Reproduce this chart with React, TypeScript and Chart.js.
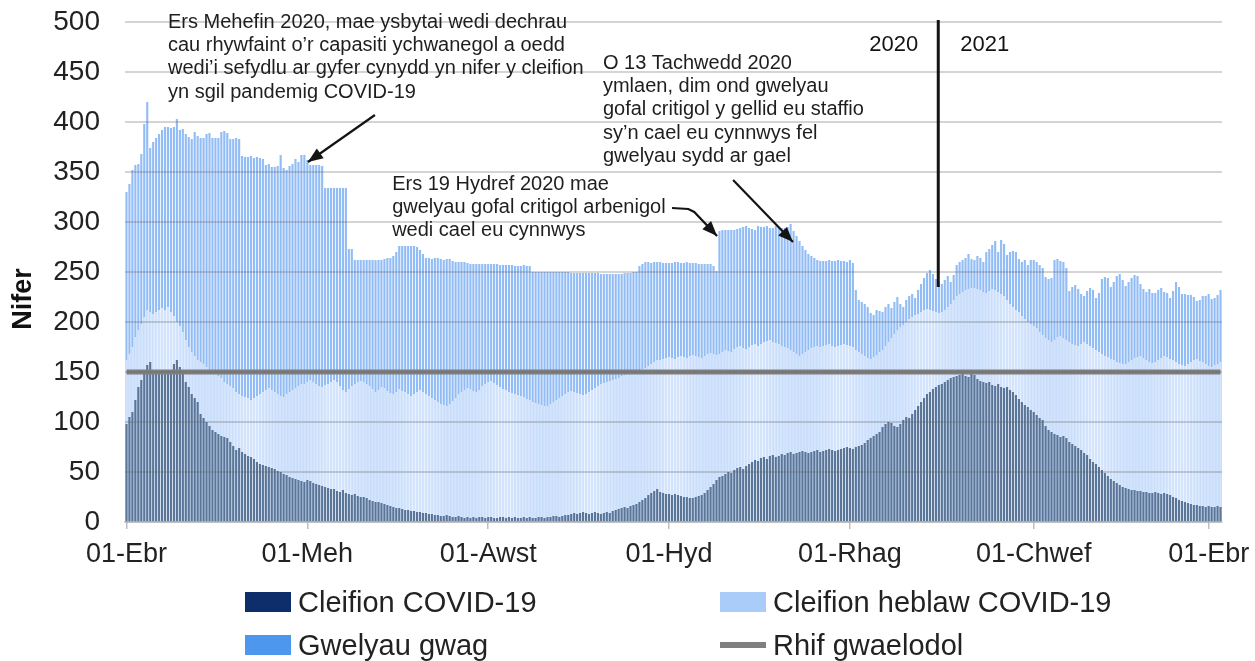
import React, { useEffect, useRef } from "react";
import { Chart, registerables } from "chart.js";

Chart.register(...registerables);

const FONT = '"Liberation Sans", Arial, sans-serif';

// ---- categories / tick labels ----
const welshMonths = ["Ion", "Chwef", "Maw", "Ebr", "Mai", "Meh", "Gorff", "Awst", "Medi", "Hyd", "Tach", "Rhag"];
const tickLabels = ["01-Ebr", "01-Meh", "01-Awst", "01-Hyd", "01-Rhag", "01-Chwef"];
const seriesNames = ["Cleifion COVID-19", "Cleifion heblaw COVID-19", "Gwelyau gwag", "Rhif gwaelodol"];
const yAxisTitle = "Nifer";

// ---- series values (daily, from 01-Apr-2020) ----
// COVID-19 patients (top of dark band)
const covidPatients = [
  98, 105, 110, 122, 135, 142, 150, 157, 160, 152,
  150, 149, 150, 149, 148, 152, 158, 162, 155, 150,
  140, 135, 128, 124, 120, 108, 104, 100, 96, 92,
  90, 88, 86, 85, 84, 80, 76, 72, 74, 70,
  68, 66, 65, 63, 60, 58, 57, 56, 55, 54,
  53, 51, 50, 48, 47, 45, 44, 43, 42, 41,
  40, 42, 41, 39, 38, 37, 36, 35, 34, 33,
  33, 31, 30, 32, 29, 28, 27, 28, 26, 25,
  25, 24, 22, 21, 20, 20, 19, 18, 17, 16,
  15, 14, 14, 13, 12, 12, 11, 11, 10, 10,
  9, 9, 8, 8, 7, 7, 6, 6, 7, 6,
  5, 5, 6, 5, 4, 5, 4, 5, 4, 5,
  5, 4, 5, 5, 4, 4, 5, 5, 4, 5,
  4, 5, 4, 4, 5, 4, 5, 4, 4, 5,
  5, 4, 5, 5, 6, 6, 5, 6, 7, 7,
  8, 9, 8, 9, 10, 9, 8, 9, 10, 9,
  8, 9, 10, 9, 11, 12, 13, 14, 15, 14,
  16, 17, 18, 20, 22, 24, 27, 29, 31, 33,
  30, 29, 28, 28, 27, 28, 27, 26, 25, 25,
  24, 24, 25, 26, 27, 29, 32, 35, 38, 42,
  45, 46, 48, 50, 49, 52, 54, 55, 53, 56,
  58, 60, 62, 61, 64, 65, 63, 66, 67, 65,
  66, 68, 67, 69, 70, 68, 69, 70, 71, 70,
  69, 70, 71, 72, 70, 71, 72, 73, 72, 71,
  72, 73, 74, 75, 74, 73, 75, 76, 77, 79,
  82, 84, 86, 88, 90, 95, 98, 100, 99, 96,
  95, 98, 102, 105, 104, 108, 112, 116, 120, 124,
  128, 130, 133, 135, 137, 138, 140, 142, 144, 145,
  146, 147, 148, 146, 145, 148, 147, 143, 141, 140,
  139, 140, 137, 136, 138, 135, 134, 135, 132, 130,
  127, 123, 120, 117, 115, 112, 110, 107, 104, 102,
  96, 92, 90, 88, 87, 85, 86, 84, 80, 78,
  76, 74, 72, 69, 67, 63, 60, 58, 55, 52,
  49, 46, 43, 41, 39, 37, 35, 34, 33, 32,
  32, 31, 31, 30, 30, 29, 29, 30, 29, 28,
  29, 28, 27, 25, 24, 22, 21, 20, 19, 18,
  17, 17, 16, 16, 15, 16, 15, 15, 16, 15,
];

// occupied beds: COVID-19 + non-COVID-19 patients (top of light band)
const occupiedBeds = [
  162, 168, 175, 185, 192, 198, 205, 212, 210, 208,
  210, 212, 214, 212, 215, 210, 206, 200, 196, 190,
  182, 175, 170, 166, 162, 160, 158, 155, 152, 150,
  148, 146, 144, 140, 138, 136, 134, 130, 128, 126,
  125, 124, 122, 124, 126, 128, 130, 132, 134, 132,
  130, 128, 126, 125, 128, 130, 132, 134, 136, 138,
  138, 140, 142, 140, 138, 136, 135, 137, 138, 140,
  142, 140, 136, 132, 130, 133, 136, 138, 140, 141,
  140, 138, 136, 133, 130, 132, 135, 134, 131, 129,
  128, 130, 133, 131, 130, 128, 126, 128, 130, 132,
  130, 128, 126, 124, 122, 120, 118, 117, 116, 118,
  121, 124, 128, 130, 132, 134, 133, 131, 130, 132,
  136, 138, 140, 141, 139, 137, 135, 133, 132, 130,
  129, 128, 127, 126, 125, 123, 122, 120, 119, 118,
  117, 116, 116, 118, 120, 122, 124, 126, 128, 130,
  131, 130, 129, 128, 127, 128, 130, 132, 134, 136,
  138, 139, 140, 141, 142, 143, 144, 146, 147, 148,
  149, 150, 151, 152, 153, 154, 156, 158, 160, 162,
  162, 163, 164, 165, 164, 163, 165, 166, 165, 164,
  166, 167, 166, 165, 164, 166, 168, 169, 168, 167,
  168, 170, 172, 171, 170, 173, 175, 176, 174, 173,
  175, 177, 178, 176, 178, 180, 181, 182, 180, 179,
  178, 176, 175, 174, 172, 170, 168, 166, 168, 170,
  172, 174, 175, 176, 175, 176, 177, 178, 176, 175,
  176, 177, 178, 177, 176, 175, 172, 170, 168, 166,
  164, 163, 165, 167, 170, 172, 176, 180, 184, 188,
  192, 195, 197, 200, 203, 205, 207, 208, 210, 212,
  213, 212, 211, 210, 209, 210, 212, 215, 218, 222,
  226, 228, 230, 232, 233, 234, 234, 233, 232, 230,
  229, 231, 233, 232, 230, 228, 226, 222, 218, 215,
  212, 210, 206, 203, 200, 198, 196, 194, 190, 187,
  184, 182, 180, 182, 185, 186, 184, 182, 180, 178,
  177, 176, 178, 180, 178, 176, 174, 172, 170, 168,
  166, 165, 163, 162, 160, 159, 158, 158, 160, 162,
  164, 165, 166, 164, 162, 160, 159, 160, 162, 164,
  166, 165, 163, 162, 160, 158, 157, 156, 158, 160,
  162, 163, 161, 160, 158, 156, 155, 157, 158, 160,
];

// total beds: occupied + empty (top of mid-blue band)
const totalBeds = [
  330, 338, 352, 357, 358, 368, 398, 420, 374, 380,
  384, 388, 392, 395, 395, 394, 395, 403, 392, 393,
  388, 385, 383, 390, 386, 384, 384, 388, 389, 384,
  384, 384, 390, 391, 389, 383, 383, 384, 383, 366,
  365, 365, 366, 364, 365, 364, 363, 357, 358, 355,
  355, 356, 367, 354, 352, 356, 358, 363, 360, 367,
  367, 362, 357, 357, 357, 357, 356, 334, 334, 334,
  334, 334, 334, 334, 334, 273, 273, 262, 262, 262,
  262, 262, 262, 262, 262, 262, 262, 263, 264, 264,
  266, 270, 276, 276, 276, 276, 276, 276, 275, 272,
  268, 264, 264, 263, 264, 264, 263, 262, 263, 263,
  261, 260, 260, 260, 260, 259, 258, 258, 258, 258,
  258, 258, 258, 258, 258, 258, 257, 257, 257, 257,
  257, 256, 256, 256, 257, 256, 256, 250, 250, 250,
  250, 250, 250, 250, 250, 250, 250, 250, 250, 250,
  249, 249, 249, 249, 249, 249, 249, 249, 249, 249,
  248, 248, 248, 248, 248, 248, 248, 248, 249, 249,
  249, 250, 250, 256, 258, 260, 260, 259, 260, 260,
  260, 259, 259, 259, 259, 260, 260, 259, 259, 260,
  259, 259, 259, 258, 258, 258, 258, 258, 256, 251,
  291, 292, 292, 292, 292, 292, 293, 294, 295, 296,
  294, 293, 292, 296, 295, 295, 296, 294, 294, 296,
  295, 294, 294, 295, 298, 291, 286, 281, 276, 272,
  268, 266, 264, 262, 261, 261, 261, 262, 261, 261,
  262, 261, 261, 260, 262, 259, 232, 222, 220, 218,
  215, 209, 207, 212, 211, 210, 215, 218, 214, 220,
  225, 218, 215, 222, 226, 228, 224, 232, 238, 244,
  249, 252, 248, 243, 240, 238, 242, 246, 240, 247,
  257, 260, 262, 264, 268, 263, 262, 266, 264, 260,
  270, 273, 277, 281, 270, 282, 278, 267, 270, 271,
  270, 263, 260, 262, 257, 262, 262, 260, 257, 254,
  245, 243, 244, 262, 263, 261, 260, 254, 231, 235,
  237, 233, 228, 226, 231, 234, 232, 224, 229, 243,
  245, 244, 235, 240, 246, 248, 242, 236, 240, 244,
  247, 246, 238, 233, 230, 233, 229, 229, 232, 234,
  230, 229, 224, 231, 240, 235, 228, 228, 227, 227,
  225, 221, 222, 226, 226, 228, 223, 224, 227, 232,
];

const baselineBeds = 150;

// unique ISO-date categories, shown as "DD-Mis"
const dayCategories = totalBeds.map((_, i) => new Date(Date.UTC(2020, 3, 1 + i)).toISOString().slice(0, 10));
const formatDay = (iso: string) => {
  const [, m, d] = iso.split("-");
  return d + "-" + welshMonths[Number(m) - 1];
};

// ---- annotations (anchored in data coordinates: day index, value) ----
const notes = [
  {
    day: 14,
    value: 500,
    lines: [
      "Ers Mehefin 2020, mae ysbytai wedi dechrau",
      "cau rhywfaint o’r capasiti ychwanegol a oedd",
      "wedi’i sefydlu ar gyfer cynydd yn nifer y cleifion",
      "yn sgil pandemig COVID-19",
    ],
  },
  {
    day: 160.7,
    value: 459,
    lines: [
      "O 13 Tachwedd 2020",
      "ymlaen, dim ond gwelyau",
      "gofal critigol y gellid eu staffio",
      "sy’n cael eu cynnwys fel",
      "gwelyau sydd ar gael",
    ],
  },
  {
    day: 89.6,
    value: 338,
    lines: ["Ers 19 Hydref 2020 mae", "gwelyau gofal critigol arbenigol", "wedi cael eu cynnwys"],
  },
];

const arrows = [
  [[83.8, 407], [61.2, 360]],
  [[204.6, 342], [224.8, 280]],
  [[184, 314], [189.5, 313], [191.5, 310], [199.2, 286]],
];

const yearDivider = { day: 273.8, top: 502, bottom: 235, labelValue: 477, left: "2020", right: "2021" };

const annotationPlugin = {
  id: "notes",
  afterDraw(chart: any) {
    const { ctx } = chart;
    const xs = chart.scales.x;
    const ys = chart.scales.y;
    ctx.save();
    ctx.fillStyle = "#1e1e1e";
    ctx.font = `20px ${FONT}`;
    ctx.textBaseline = "middle";
    ctx.textAlign = "left";
    notes.forEach((n) => {
      const px = xs.getPixelForValue(n.day);
      const py = ys.getPixelForValue(n.value);
      n.lines.forEach((l, i) => ctx.fillText(l, px, py + i * 23.4));
    });

    ctx.strokeStyle = "#141414";
    ctx.fillStyle = "#141414";
    ctx.lineWidth = 2.2;
    arrows.forEach((pts) => {
      const p = pts.map(([d, v]) => [xs.getPixelForValue(d), ys.getPixelForValue(v)]);
      ctx.beginPath();
      ctx.moveTo(p[0][0], p[0][1]);
      for (let i = 1; i < p.length; i++) ctx.lineTo(p[i][0], p[i][1]);
      ctx.stroke();
      const [x1, y1] = p[p.length - 2];
      const [x2, y2] = p[p.length - 1];
      const a = Math.atan2(y2 - y1, x2 - x1);
      const L = 15, W = 6;
      const c = Math.cos(a), s = Math.sin(a);
      ctx.beginPath();
      ctx.moveTo(x2, y2);
      ctx.lineTo(x2 - L * c + W * s, y2 - L * s - W * c);
      ctx.lineTo(x2 - L * c - W * s, y2 - L * s + W * c);
      ctx.closePath();
      ctx.fill();
    });

    const dx = xs.getPixelForValue(yearDivider.day);
    ctx.lineWidth = 3;
    ctx.beginPath();
    ctx.moveTo(dx, ys.getPixelForValue(yearDivider.top));
    ctx.lineTo(dx, ys.getPixelForValue(yearDivider.bottom));
    ctx.stroke();
    ctx.font = `22px ${FONT}`;
    const ly = ys.getPixelForValue(yearDivider.labelValue);
    ctx.textAlign = "right";
    ctx.fillText(yearDivider.left, dx - 20, ly);
    ctx.textAlign = "left";
    ctx.fillText(yearDivider.right, dx + 22, ly);

    // y-axis title
    ctx.save();
    ctx.translate(24, 299);
    ctx.rotate(-Math.PI / 2);
    ctx.textAlign = "center";
    ctx.fillStyle = "#111";
    ctx.font = `bold 27px ${FONT}`;
    ctx.fillText(yAxisTitle, 0, 0);
    ctx.restore();
    ctx.restore();
  },
};

const legendItems = [
  { text: seriesNames[0], color: "#0d2e6b", kind: "box", left: 245, top: 602 },
  { text: seriesNames[1], color: "#a9ccf8", kind: "box", left: 720, top: 602 },
  { text: seriesNames[2], color: "#4d98ee", kind: "box", left: 245, top: 645 },
  { text: seriesNames[3], color: "#808080", kind: "line", left: 720, top: 645 },
];

export default function App() {
  const ref = useRef<HTMLCanvasElement | null>(null);

  useEffect(() => {
    if (!ref.current) return;
    const chart = new Chart(ref.current, {
      type: "bar",
      data: {
        labels: dayCategories,
        datasets: [
          {
            type: "line",
            label: seriesNames[3],
            data: [
              { x: dayCategories[0], y: baselineBeds },
              { x: dayCategories[dayCategories.length - 1], y: baselineBeds },
            ],
            borderColor: "#7f7f7f",
            borderWidth: 5,
            pointRadius: 0,
            order: 0,
          } as any,
          {
            type: "bar",
            label: seriesNames[0],
            data: covidPatients,
            backgroundColor: "#5b7597",
            order: 1,
          },
          {
            type: "bar",
            label: seriesNames[1],
            data: occupiedBeds,
            backgroundColor: "#d3e4fc",
            order: 2,
          },
          {
            type: "bar",
            label: seriesNames[2],
            data: totalBeds,
            backgroundColor: "#92bcf5",
            order: 3,
          },
        ],
      },
      options: {
        animation: false,
        responsive: false,
        layout: { padding: { left: 0, right: 33, top: 22, bottom: 89 } },
        plugins: { legend: { display: false }, tooltip: { enabled: false } },
        datasets: { bar: { grouped: false, barPercentage: 0.72, categoryPercentage: 1 } } as any,
        scales: {
          x: {
            type: "category",
            offset: true,
            grid: {
              display: true,
              offset: false,
              drawOnChartArea: false,
              drawTicks: true,
              tickLength: 7,
              color: "#bfbfbf",
              lineWidth: 1.5,
            },
            border: { display: true, color: "#c8c8c8", width: 1.5 },
            ticks: {
              autoSkip: false,
              maxRotation: 0,
              minRotation: 0,
              padding: 9,
              color: "#222",
              font: { family: FONT, size: 27 },
              callback: (v: any) => formatDay(dayCategories[v]),
            },
            afterBuildTicks: (s: any) => {
              s.ticks = s.ticks.filter((t: any) => tickLabels.includes(formatDay(dayCategories[t.value])));
            },
            afterFit: (s: any) => {
              s.height = 50;
              s.paddingLeft = 0;
              s.paddingRight = 0;
            },
          } as any,
          y: {
            min: 0,
            max: 500,
            ticks: { stepSize: 50, padding: 25, color: "#222", font: { family: FONT, size: 28 } },
            grid: { color: "rgba(100,100,100,0.28)", lineWidth: 2, drawTicks: false, z: 1 } as any,
            border: { display: false },
            afterFit: (s: any) => {
              s.width = 125;
              s.paddingTop = 0;
              s.paddingBottom = 0;
            },
          },
        },
      },
      plugins: [annotationPlugin],
    });
    return () => chart.destroy();
  }, []);

  return (
    <div style={{ position: "fixed", left: 0, top: 0, width: 1255, height: 661, background: "#fff" }}>
      <canvas ref={ref} width={1255} height={661} style={{ display: "block", width: 1255, height: 661 }} />
      {legendItems.map((it) => (
        <div
          key={it.text}
          style={{
            position: "absolute",
            left: it.left,
            top: it.top - 19,
            height: 38,
            display: "flex",
            alignItems: "center",
            fontFamily: FONT,
            fontSize: 29,
            color: "#222",
            whiteSpace: "nowrap",
          }}
        >
          <span
            style={{
              display: "inline-block",
              width: 46,
              height: it.kind === "box" ? 20 : 6,
              background: it.color,
              marginRight: 7,
            }}
          />
          {it.text}
        </div>
      ))}
    </div>
  );
}
